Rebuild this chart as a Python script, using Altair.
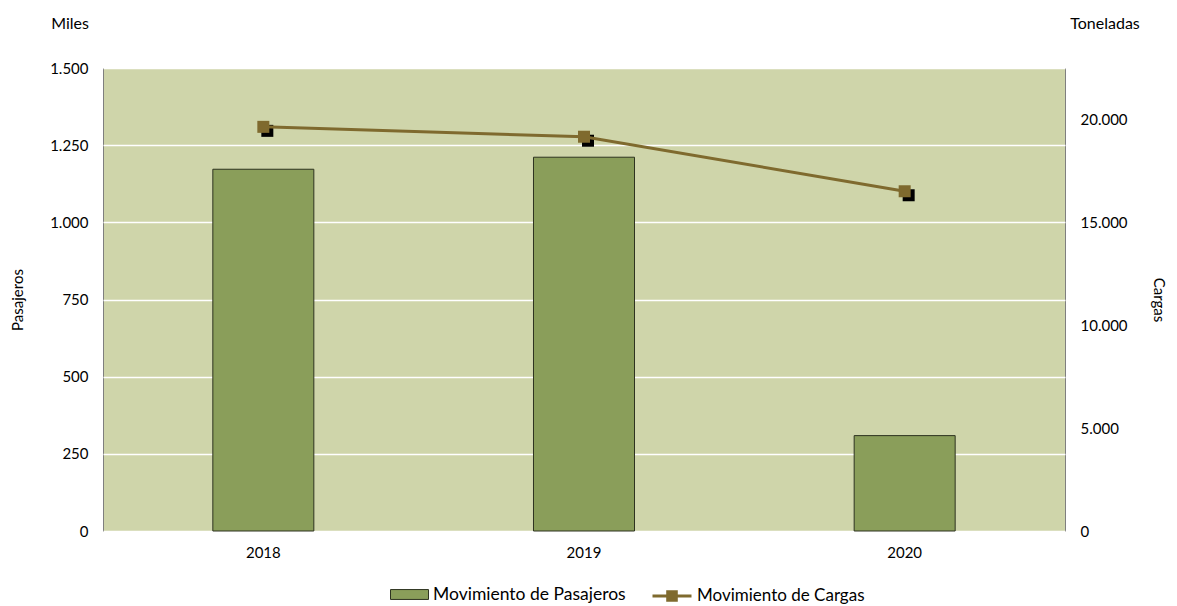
import altair as alt
import pandas as pd

# ---- data ----
years = ["2018", "2019", "2020"]
pasajeros = [1172, 1211, 309]          # miles de pasajeros
cargas = [19640, 19160, 16510]         # toneladas
series_bar = "Movimiento de Pasajeros"
series_line = "Movimiento de Cargas"
left_ticks = [0, 250, 500, 750, 1000, 1250, 1500]
right_ticks = [0, 5000, 10000, 15000, 20000]
unit_left = ["Miles"]
unit_right = ["Toneladas"]

df = pd.DataFrame({
    "year": years,
    "pasajeros": pasajeros,
    "cargas": cargas,
    "s1": [series_bar] * len(years),
    "s2": [series_line] * len(years),
})

BAR = "#8A9E5A"
BAR_EDGE = "#2E3320"
LINE = "#7F6A2E"
BG = "#CFD5AA"
FONT = "Lato"
fmt = "replace(format(datum.value, ','), ',', '.')"

x_enc = alt.X(
    "year:N", title=None,
    scale=alt.Scale(paddingInner=0.685, paddingOuter=0.3425),
    axis=alt.Axis(labelAngle=0, ticks=False, domain=False, labelPadding=14),
)

bar = alt.Chart(df).mark_bar(stroke=BAR_EDGE, strokeWidth=1).encode(
    x=x_enc,
    y=alt.Y(
        "pasajeros:Q", title="Pasajeros",
        scale=alt.Scale(domain=[0, 1500], nice=False),
        axis=alt.Axis(orient="left", values=left_ticks, labelExpr=fmt, grid=True,
                      gridColor="white", gridWidth=1.5, ticks=False, domain=False,
                      labelPadding=15, titlePadding=24),
    ),
    fill=alt.Fill(
        "s1:N",
        scale=alt.Scale(range=[BAR]),
        legend=alt.Legend(title=None, orient="none", legendX=287, legendY=507,
                          symbolType="M-1,-0.26H1V0.26H-1Z", symbolSize=1444,
                          symbolStrokeColor=BAR_EDGE, symbolStrokeWidth=1,
                          labelOffset=4, labelFontSize=17.5, labelLimit=400),
    ),
)

y_right = alt.Y(
    "cargas:Q", title="Cargas",
    scale=alt.Scale(domain=[0, 22500], nice=False),
    axis=alt.Axis(orient="right", values=right_ticks, labelExpr=fmt, grid=False,
                  ticks=False, domain=False, labelPadding=15, titlePadding=23),
)

base = alt.Chart(df).encode(x=alt.X("year:N"), y=y_right)
shadow = base.mark_square(size=144, color="black", opacity=1, xOffset=4, yOffset=4)
line = base.mark_line(strokeWidth=3).encode(
    stroke=alt.Stroke(
        "s2:N",
        scale=alt.Scale(range=[LINE]),
        legend=alt.Legend(title=None, orient="none", legendX=548, legendY=507,
                          symbolType="M-1,0H1M-0.22,-0.22H0.22V0.22H-0.22Z",
                          symbolSize=1521, symbolStrokeWidth=3,
                          symbolFillColor=LINE, labelOffset=4, labelFontSize=17,
                          labelLimit=400),
    )
)
squares = base.mark_square(size=144, color=LINE, opacity=1)

miles = alt.Chart(pd.DataFrame({"t": unit_left})).mark_text(fontSize=16, font=FONT).encode(
    text="t:N", x=alt.value(-33), y=alt.value(-44))
toneladas = alt.Chart(pd.DataFrame({"t": unit_right})).mark_text(fontSize=16, font=FONT).encode(
    text="t:N", x=alt.value(1002), y=alt.value(-44))

chart = alt.layer(
    bar, alt.layer(shadow, line, squares), miles, toneladas
).resolve_scale(y="independent").properties(
    width=962, height=463,
    autosize=alt.AutoSizeParams(type="none"),
    padding={"left": 95, "top": 60, "right": 104, "bottom": 74},
).configure_view(
    fill=BG, stroke="#7F7F7F", strokeWidth=1
).configure_axis(
    labelFont=FONT, titleFont=FONT, labelFontSize=15, titleFontSize=15,
    labelColor="black", titleColor="black", titleFontWeight="normal",
).configure_legend(
    labelFont=FONT, labelColor="black",
)

chart.save("out.html", embed_options={"renderer": "svg", "actions": False})
